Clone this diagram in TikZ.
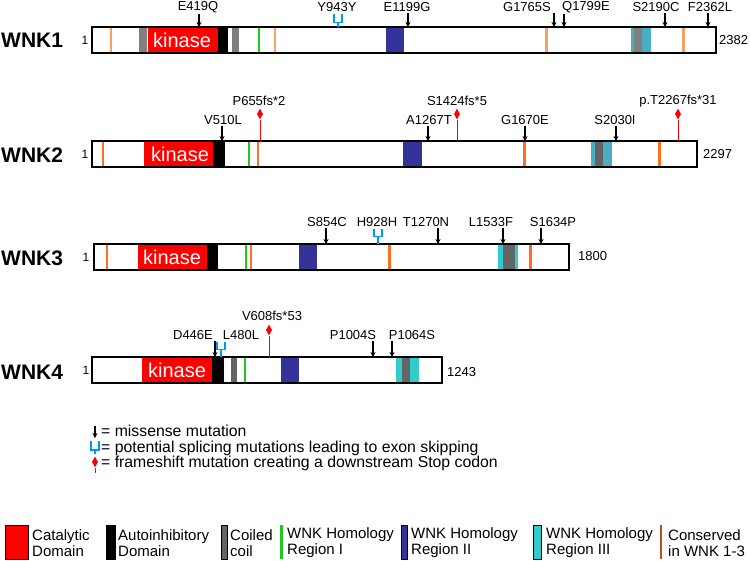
\documentclass[tikz,border=0pt]{standalone}
\usepackage{fontspec}
\setmainfont{Liberation Sans}
\usetikzlibrary{calc,shapes.geometric,arrows.meta}

\definecolor{kinred}{RGB}{255,0,0}
\definecolor{ccgray}{RGB}{128,128,128}
\definecolor{ccdark}{RGB}{100,100,100}
\definecolor{hrgreen}{RGB}{30,200,30}
\definecolor{hrblue}{RGB}{51,51,153}
\definecolor{hrlight}{RGB}{75,172,198}
\definecolor{hrcyan}{RGB}{51,204,204}
\definecolor{conspale}{RGB}{245,160,100}
\definecolor{consorange}{RGB}{255,110,30}
\definecolor{conskey}{RGB}{192,80,26}
\definecolor{splblue}{RGB}{0,150,255}

% U-shaped splice mark between a label node and a tip coordinate
\newcommand{\splicemark}[2]{%
    \draw[spl] ($(#1.south -| #2)+(-4,1)$) -- ++(0,8) -- ++(8,0) -- ++(0,-8);
    \draw[spl] ($(#1.south -| #2)+(0,9)$) -- (#2);}

\begin{document}
\begin{tikzpicture}[x=1pt,y=-1pt,
    gene/.style={font=\fontsize{21}{24}\selectfont\bfseries,anchor=west,inner sep=0pt},
    mut/.style={font=\fontsize{13}{14}\selectfont,inner sep=1pt},
    endnum/.style={font=\fontsize{13}{15}\selectfont,anchor=west,inner sep=0pt},
    startnum/.style={font=\fontsize{12}{14}\selectfont,inner sep=0pt},
    kin/.style={font=\fontsize{20}{22}\selectfont,text=white,inner sep=0pt},
    barline/.style={line width=1.3pt},
    mis/.style={line width=1.1pt,-{Stealth[length=5pt,width=5pt]}},
    spl/.style={splblue,line width=1.2pt},
    fs/.style={red,line width=0.9pt},
    fsd/.style={diamond,fill=red,inner sep=0pt,minimum width=6pt,minimum height=11pt},
    legtxt/.style={font=\fontsize{15.8}{15.7}\selectfont,anchor=west,align=left,inner sep=0pt},
    keytxt/.style={font=\fontsize{15}{16}\selectfont,anchor=west,align=left,inner sep=0pt},
    keybox/.style={draw=black,line width=0.8pt}]

    % Background and page size
    \fill[white] (0,0) rectangle (750,560);
    \useasboundingbox (0,0) rectangle (750,560);

    % WNK1 bar with its domains
    \node[gene] (wnk1) at (1,40) {WNK1};
    \node[startnum] (wnk1s) at (85,40) {1};
    \foreach \a/\b/\c in {139/147/ccgray,148/218/kinred,218/228/black,232/239/ccgray,386/404/hrblue,631/651/hrlight,634/642/ccgray}
        \fill[\c] (\a,27) rectangle (\b,53);
    \foreach \a/\w/\c in {111/1.5/conspale,259/2.5/hrgreen,275/1.5/conspale,546/3/conspale,683/3/conspale}
        \draw[\c,line width=\w pt] (\a,27) -- (\a,53);
    \draw[barline] (92,27) rectangle (716,53);
    \node[kin] (kin1) at (182,40) {kinase};
    \node[endnum] (wnk1e) at (719,40) {2382};

    % WNK1 mutations
    \foreach \n/\lx/\tx in {E419Q/198/199,E1199G/407/408,G1765S/527/554,Q1799E/586/564,S2190C/656/665,F2362L/710/708} {
        \node[mut] (m\n) at (\lx,7.5) {\n};
        \coordinate (t\n) at (\tx,27);
        \draw[mis] (m\n.south -| t\n) -- (t\n);
    }
    \node[mut] (mY943Y) at (337,7.5) {Y943Y};
    \coordinate (tY943Y) at (338,27);
    \splicemark{mY943Y}{tY943Y}

    % WNK2 bar with its domains
    \node[gene] (wnk2) at (1,155) {WNK2};
    \node[startnum] (wnk2s) at (85,154) {1};
    \foreach \a/\b/\c in {144/213/kinred,213/225/black,403/422/hrblue,591/612/hrlight,595/603/ccdark}
        \fill[\c] (\a,141) rectangle (\b,167);
    \foreach \a/\w/\c in {103/2/consorange,249/2.5/hrgreen,258/1.5/consorange,524/3/consorange,659/3/consorange}
        \draw[\c,line width=\w pt] (\a,141) -- (\a,167);
    \draw[barline] (92,141) rectangle (697,167);
    \node[kin] (kin2) at (180,154) {kinase};
    \node[endnum] (wnk2e) at (703,154) {2297};

    % WNK2 mutations
    \foreach \n/\lx/\tx in {V510L/223/222,A1267T/429/428,G1670E/525/525,S2030I/615/616} {
        \node[mut] (m\n) at (\lx,120) {\n};
        \coordinate (t\n) at (\tx,141);
        \draw[mis] (m\n.south -| t\n) -- (t\n);
    }
    \foreach \n/\lx/\tx/\txt in {p655/259/260/P655fs*2,s1424/457/457/S1424fs*5,t2267/678/678/p.T2267fs*31} {
        \node[mut] (m\n) at (\lx,101) {\txt};
        \node[fsd] (d\n) at (\tx,114) {};
        \coordinate (t\n) at (\tx,141);
        \draw[fs] (d\n) -- (t\n);
    }

    % WNK3 bar with its domains
    \node[gene] (wnk3) at (1,258) {WNK3};
    \node[startnum] (wnk3s) at (86,257) {1};
    \foreach \a/\b/\c in {138/207/kinred,207/218/black,299/317/hrblue,498/518/hrcyan,503/515/ccdark}
        \fill[\c] (\a,244) rectangle (\b,270);
    \foreach \a/\w/\c in {107/2/consorange,246/2.5/hrgreen,251/1.5/consorange,389/3/consorange,530/3/consorange}
        \draw[\c,line width=\w pt] (\a,244) -- (\a,270);
    \draw[barline] (94,244) rectangle (569,270);
    \node[kin] (kin3) at (172,257) {kinase};
    \node[endnum] (wnk3e) at (578,256) {1800};

    % WNK3 mutations
    \foreach \n/\lx/\tx in {S854C/327/326,T1270N/426/438,L1533F/491/503,S1634P/553/541} {
        \node[mut] (m\n) at (\lx,222) {\n};
        \coordinate (t\n) at (\tx,244);
        \draw[mis] (m\n.south -| t\n) -- (t\n);
    }
    \node[mut] (mH928H) at (377,222) {H928H};
    \coordinate (tH928H) at (378,244);
    \splicemark{mH928H}{tH928H}

    % WNK4 bar with its domains
    \node[gene] (wnk4) at (1,372) {WNK4};
    \node[startnum] (wnk4s) at (86,370) {1};
    \foreach \a/\b/\c in {142/212/kinred,212/224/black,231/237/ccdark,281/299/hrblue,396/419/hrcyan,402/410/ccdark}
        \fill[\c] (\a,357) rectangle (\b,383);
    \draw[hrgreen,line width=2.5pt] (245,357) -- (245,383);
    \draw[barline] (92,357) rectangle (442,383);
    \node[kin] (kin4) at (177,370) {kinase};
    \node[endnum] (wnk4e) at (447,372) {1243};

    % WNK4 mutations
    \foreach \n/\lx/\tx in {D446E/193/215,P1004S/353/373,P1064S/412/392} {
        \node[mut] (m\n) at (\lx,335) {\n};
        \coordinate (t\n) at (\tx,357);
        \draw[mis] (m\n.south -| t\n) -- (t\n);
    }
    \node[mut] (mL480L) at (241,335) {L480L};
    \coordinate (tL480L) at (221,357);
    \splicemark{mL480L}{tL480L}
    \node[mut] (mv608) at (272,316) {V608fs*53};
    \node[fsd] (dv608) at (269,330) {};
    \coordinate (tv608) at (269,357);
    \draw[fs] (dv608) -- (tv608);

    % Symbol legend
    \coordinate (legmisa) at (95,426);
    \coordinate (legmisb) at (95,438);
    \draw[mis] (legmisa) -- (legmisb);
    \draw[spl] (91,441) -- (91,450) -- (99,450) -- (99,441);
    \draw[spl] (95,450) -- (95,454);
    \node[fsd] (legfsd) at (95,462) {};
    \coordinate (legfst) at (95,473);
    \draw[fs] (legfsd) -- (legfst);
    \node[legtxt] (legsym) at (101,448) {= missense mutation\\= potential splicing mutations leading to exon skipping\\= frameshift mutation creating a downstream Stop codon};

    % Domain key
    \fill[kinred,keybox] (5,525) rectangle (28,559);
    \node[keytxt] (keycat) at (32,543) {Catalytic\\Domain};
    \fill[black,keybox] (106,525) rectangle (115,559);
    \node[keytxt] (keyauto) at (118,543) {Autoinhibitory\\Domain};
    \fill[ccdark,keybox] (221,525) rectangle (227,559);
    \node[keytxt] (keycc) at (230,543) {Coiled\\coil};
    \draw[hrgreen,line width=3pt] (281.5,525) -- (281.5,559);
    \node[keytxt] (keyhr1) at (287,543) {WNK Homology\\Region I};
    \fill[hrblue,keybox] (401,525) rectangle (407,559);
    \node[keytxt] (keyhr2) at (411,543) {WNK Homology\\Region II};
    \fill[hrcyan,keybox] (533,525) rectangle (541,559);
    \node[keytxt] (keyhr3) at (546,543) {WNK Homology\\Region III};
    \draw[conskey,line width=2pt] (661,525) -- (661,559);
    \node[keytxt] (keycons) at (668,543) {Conserved\\in WNK 1-3};

\end{tikzpicture}
\end{document}
